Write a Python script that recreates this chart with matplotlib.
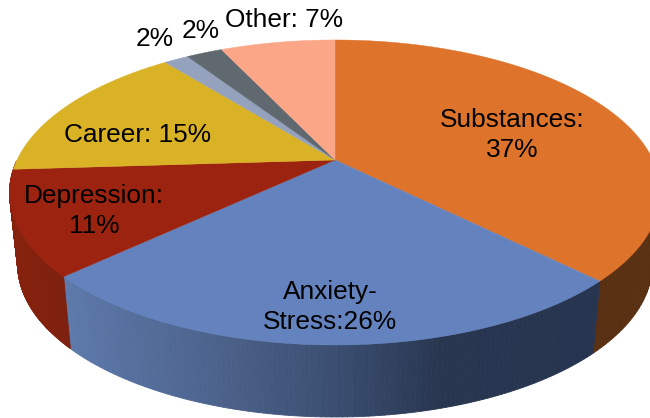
import numpy as np
import matplotlib
matplotlib.use('Agg')
import matplotlib.pyplot as plt
from matplotlib.collections import PolyCollection
from matplotlib.colors import to_rgb

plt.rcParams['font.family'] = ['Liberation Sans', 'DejaVu Sans']

# data, clockwise from 12 o'clock (slice sizes as measured on the picture)
shares = [37.5, 25.5, 11, 15.3, 1.5, 2.2, 7]
top_colors = ['#DE732B', '#6483BE', '#9C2310', '#D9B325', '#95A2BE', '#606870', '#FBA687']
labels = ['Substances:\n37%', 'Anxiety-\nStress:26%', 'Depression:\n11%', 'Career: 15%', '2%', '2%', 'Other: 7%']
label_x = [512, 330, 94, 137, 155, 201, 284]
label_y = [135, 307, 211, 135, 39, 31, 20]

# pie geometry in pixels
cx, cy = 335, 160
rx, ry = 318, 145.6
persp = 0.213
depth = 72
shrink = 0.975


def project(theta):
    # theta in radians clockwise from top, perspective tilted disc
    u = np.sin(theta)
    v = -np.cos(theta)
    d = 1 - persp * v
    return cx + rx * u / d, cy + ry * v / d


def side_color(i, x):
    # side walls get darker to the right
    if i == 1:
        stops = [(64, '#5D7AAB'), (230, '#4A6088'), (340, '#3A4D70'), (440, '#293650'), (600, '#27344F')]
    elif i == 0:
        stops = [(590, '#5A3012'), (650, '#5A3012')]
    else:
        stops = [(10, '#86220E'), (70, '#7C200E')]
    xs = [s[0] for s in stops]
    rgb = np.array([to_rgb(s[1]) for s in stops])
    return [np.interp(x, xs, rgb[:, k]) for k in range(3)]


fig = plt.figure(figsize=(6.5, 4.18), dpi=100)
ax = fig.add_axes([0, 0, 1, 1])
ax.set_xlim(0, 650)
ax.set_ylim(418, 0)
ax.axis('off')

edges = np.cumsum([0] + shares) / sum(shares) * 2 * np.pi

# walls first, the tops cover whatever is behind
for i in range(len(shares)):
    t = np.linspace(edges[i], edges[i + 1], 120)
    x, y = project(t)
    xb = cx + (x - cx) * shrink
    yb = y + depth
    quads = []
    cols = []
    for j in range(len(t) - 1):
        if y[j] < cy or y[j + 1] < cy:  # back of the pie, nothing to see
            continue
        quads.append([(x[j], y[j]), (x[j + 1], y[j + 1]), (xb[j + 1], yb[j + 1]), (xb[j], yb[j])])
        cols.append(side_color(i, (x[j] + x[j + 1]) / 2))
    if quads:
        ax.add_collection(PolyCollection(quads, facecolors=cols, edgecolors=cols, linewidths=0.6))

for i in range(len(shares)):
    t = np.linspace(edges[i], edges[i + 1], 200)
    x, y = project(t)
    ax.fill(np.r_[cx, x], np.r_[cy, y], color=top_colors[i], lw=0.3)

for i in range(len(labels)):
    ax.text(label_x[i], label_y[i], labels[i], fontsize=18.9, color='black',
            ha='center', va='center', linespacing=1.27)

fig.savefig('out.png', dpi=100)
